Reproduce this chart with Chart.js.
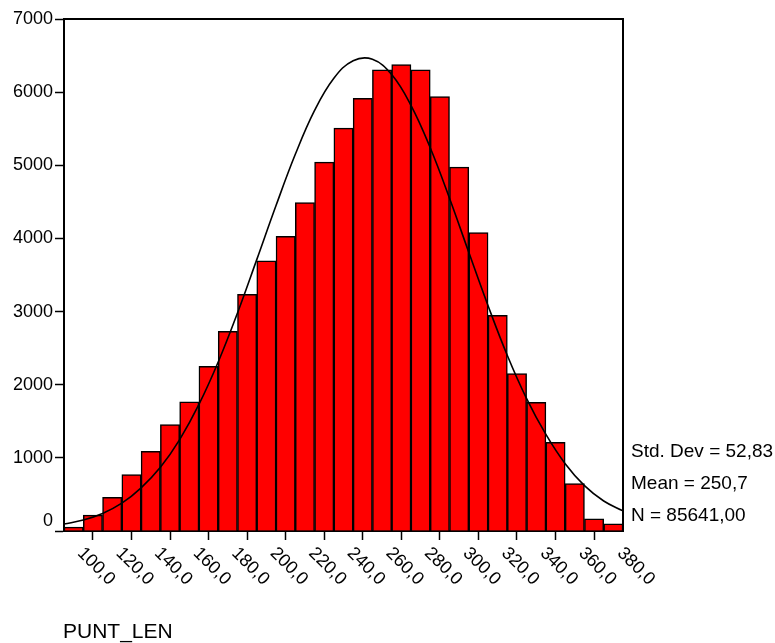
<!DOCTYPE html>
<html>
<head>
<meta charset="utf-8">
<title>PUNT_LEN</title>
<script src="https://cdn.jsdelivr.net/npm/chart.js@4/dist/chart.umd.min.js"></script>
<style>
  html, body { margin: 0; padding: 0; background: #fff; }
  #wrap { width: 775px; height: 643px; position: relative; }
</style>
</head>
<body>
<div id="wrap"><canvas id="chart"></canvas></div>
<script>
// histogram bins (centre of each 10-wide class) and counts
const binCenters = [100, 110, 120, 130, 140, 150, 160, 170, 180, 190, 200, 210, 220, 230, 240,
                    250, 260, 270, 280, 290, 300, 310, 320, 330, 340, 350, 360, 370, 380];
const counts = [52, 216, 462, 772, 1090, 1455, 1765, 2251, 2729, 3235, 3695, 4027, 4491, 5043, 5507,
                5917, 6304, 6376, 6304, 5939, 4975, 4081, 2948, 2151, 1759, 1213, 649, 167, 98];

// normal curve at the bin edges
const curveX = [95, 105, 115, 125, 135, 145, 155, 165, 175, 185, 195, 205, 215, 225, 235,
                245, 255, 265, 275, 285, 295, 305, 315, 325, 335, 345, 355, 365, 375, 385];
const curveY = [95, 150, 240, 380, 590, 870, 1250, 1730, 2310, 2980, 3710, 4450, 5150, 5750, 6190,
                6430, 6450, 6240, 5820, 5240, 4550, 3810, 3080, 2400, 1810, 1320, 920, 620, 410, 275];

const xTicks = [100, 120, 140, 160, 180, 200, 220, 240, 260, 280, 300, 320, 340, 360, 380];
const statLines = ['Std. Dev = 52,83', 'Mean = 250,7', 'N = 85641,00'];
const varName = 'PUNT_LEN';

const FONT = '"Liberation Sans", Arial, sans-serif';

// extra drawing: frame, rotated x labels, the 0 label, stats and variable name
const extras = {
  id: 'extras',
  afterDraw(chart) {
    const ctx = chart.ctx;
    const a = chart.chartArea;
    const xs = chart.scales.x;
    const ys = chart.scales.y;
    ctx.save();
    // top and right frame lines
    ctx.strokeStyle = '#000';
    ctx.lineWidth = 2;
    ctx.beginPath();
    ctx.moveTo(a.left, a.top);
    ctx.lineTo(a.right, a.top);
    ctx.lineTo(a.right, a.bottom);
    ctx.stroke();

    ctx.fillStyle = '#000';
    // x tick labels, turned clockwise
    ctx.font = '18px ' + FONT;
    ctx.textAlign = 'left';
    ctx.textBaseline = 'top';
    xs.ticks.forEach(t => {
      const px = xs.getPixelForValue(t.value);
      ctx.save();
      ctx.translate(px + 13, a.bottom + 13);
      ctx.rotate(Math.PI / 4);
      ctx.fillText(t.value.toFixed(1).replace('.', ','), 0, 0);
      ctx.restore();
    });

    // "0" sits a little above the baseline
    ctx.textAlign = 'right';
    ctx.textBaseline = 'middle';
    ctx.fillText('0', a.left - 11, ys.getPixelForValue(0) - 10);

    // statistics
    ctx.font = '19px ' + FONT;
    ctx.textAlign = 'left';
    statLines.forEach((s, i) => {
      ctx.fillText(s, a.right + 8, 452 + i * 32);
    });

    // variable name
    ctx.font = '21px ' + FONT;
    ctx.fillText(varName, a.left - 1, 632);
    ctx.restore();
  }
};

const ctx = document.getElementById('chart').getContext('2d');
new Chart(ctx, {
  data: {
    datasets: [
      {
        type: 'line',
        data: curveX.map((x, i) => ({ x: x, y: curveY[i] })),
        borderColor: '#000',
        borderWidth: 1.6,
        pointRadius: 0,
        tension: 0.4,
        fill: false,
        order: 0
      },
      {
        type: 'bar',
        data: binCenters.map((x, i) => ({ x: x, y: counts[i] })),
        backgroundColor: '#ff0000',
        borderColor: '#000',
        borderWidth: 1.5,
        barPercentage: 1.0,
        categoryPercentage: 1.0,
        order: 1
      }
    ]
  },
  options: {
    responsive: true,
    maintainAspectRatio: false,
    animation: false,
    devicePixelRatio: 1,
    layout: { padding: { left: 0, right: 152, top: 19, bottom: 0 } },
    plugins: {
      legend: { display: false },
      tooltip: { enabled: false }
    },
    scales: {
      x: {
        type: 'linear',
        min: 95,
        max: 385,
        offset: false,
        afterFit: s => { s.height = 643 - 19 - 512; },
        afterBuildTicks: s => { s.ticks = xTicks.map(v => ({ value: v })); },
        ticks: { display: false },
        grid: { drawOnChartArea: false, drawTicks: true, tickLength: 9, tickColor: '#000', tickWidth: 1.5 },
        border: { display: true, color: '#000', width: 2 }
      },
      y: {
        min: 0,
        max: 7000,
        afterFit: s => { s.width = 64; },
        ticks: {
          stepSize: 1000,
          padding: 2,
          color: '#000',
          font: { family: FONT, size: 18 },
          callback: v => (v === 0 ? '' : String(v))
        },
        grid: { drawOnChartArea: false, drawTicks: true, tickLength: 9, tickColor: '#000', tickWidth: 1.5 },
        border: { display: true, color: '#000', width: 2 }
      }
    }
  },
  plugins: [extras]
});
</script>
</body>
</html>
